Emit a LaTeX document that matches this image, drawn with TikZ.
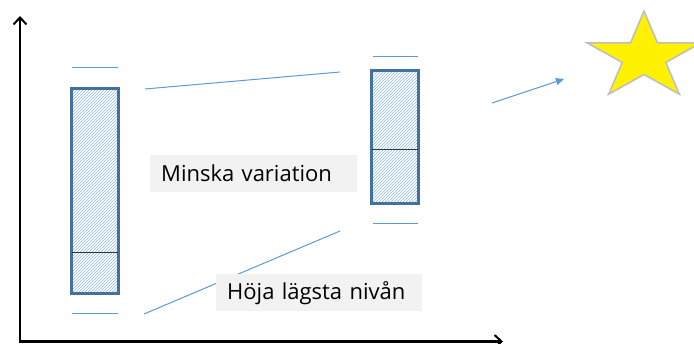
\documentclass[tikz,border=0pt]{standalone}
\usepackage{fontspec}
\setmainfont{Open Sans}
\usetikzlibrary{patterns,arrows.meta}
\definecolor{pblue}{HTML}{5B9BD5}
\definecolor{bord}{HTML}{41719C}
\definecolor{hatch}{HTML}{8DB6E2}
\definecolor{lblbg}{HTML}{F2F2F2}
\definecolor{stargray}{HTML}{BFBFBF}
\tikzset{
  bar/.style={draw=bord, line width=1.6pt, pattern=north east lines, pattern color=hatch, inner sep=0pt},
  whisk/.style={draw=pblue, line width=1pt},
  conn/.style={draw=pblue, line width=1pt},
  divider/.style={draw=black!80, line width=0.9pt},
  axis/.style={draw=black, line width=2.6pt, -{Straight Barb[length=7pt,width=13pt,line width=2pt]}},
  lbl/.style={fill=lblbg, font=\fontsize{22}{26}\selectfont, align=left, inner xsep=11pt, inner ysep=0pt, minimum height=37pt, anchor=north west},
  starshape/.style={fill=yellow, draw=stargray, line width=1.6pt, line join=miter}
}
\begin{document}
\begin{tikzpicture}[x=1pt,y=-1pt]
\useasboundingbox (0,0) rectangle (694,344);
% axes
\coordinate (o) at (20,341.5);
\coordinate (ytop) at (20,16);
\coordinate (xend) at (503,341.5);
\draw[axis] ([yshift=-1.3pt]o) -- (ytop);
\draw[axis] ([xshift=-1.3pt]o) -- (xend);
% left bar
\node[bar, minimum width=46pt, minimum height=204pt] (b1) at (95,191) {};
\draw[divider] (b1.west |- 0,252) coordinate (d1l) -- (b1.east |- 0,252) coordinate (d1r);
\draw[bar, pattern=none] (b1.south west) rectangle (b1.north east);
\coordinate (w1tl) at (72,68); \coordinate (w1tr) at (118,68);
\coordinate (w1bl) at (72,314); \coordinate (w1br) at (118,314);
\draw[whisk] (w1tl) -- (w1tr);
\draw[whisk] (w1bl) -- (w1br);
% right bar
\node[bar, minimum width=46pt, minimum height=132pt] (b2) at (395,137) {};
\draw[divider] (b2.west |- 0,149) coordinate (d2l) -- (b2.east |- 0,149) coordinate (d2r);
\draw[bar, pattern=none] (b2.south west) rectangle (b2.north east);
\coordinate (w2tl) at (373,57); \coordinate (w2tr) at (418,57);
\coordinate (w2bl) at (373,224); \coordinate (w2br) at (418,224);
\draw[whisk] (w2tl) -- (w2tr);
\draw[whisk] (w2bl) -- (w2br);
% connectors
\coordinate (c1a) at (145,89); \coordinate (c1b) at (340,72);
\coordinate (c2a) at (144,314); \coordinate (c2b) at (340,231);
\draw[conn] (c1a) -- (c1b);
\draw[conn] (c2a) -- (c2b);
% labels
\node[lbl, text width=185pt] (l1) at (150,155) {Minska variation};
\node[lbl, text width=184pt] (l2) at (216,274) {Höja lägsta nivån};
% arrow to star
\coordinate (aa) at (492,103); \coordinate (ab) at (564,79);
\draw[conn, -{Triangle[length=8pt,width=7pt]}] (aa) -- (ab);
% star
\begin{scope}[shift={(644,57)}, xscale=60, yscale=-45.9]
\draw[starshape] (0,1) -- (0.2245,0.309) -- (0.951,0.309) -- (0.363,-0.118) -- (0.588,-0.809) -- (0,-0.382) -- (-0.588,-0.809) -- (-0.363,-0.118) -- (-0.951,0.309) -- (-0.2245,0.309) -- cycle;
\end{scope}
\end{tikzpicture}
\end{document}
